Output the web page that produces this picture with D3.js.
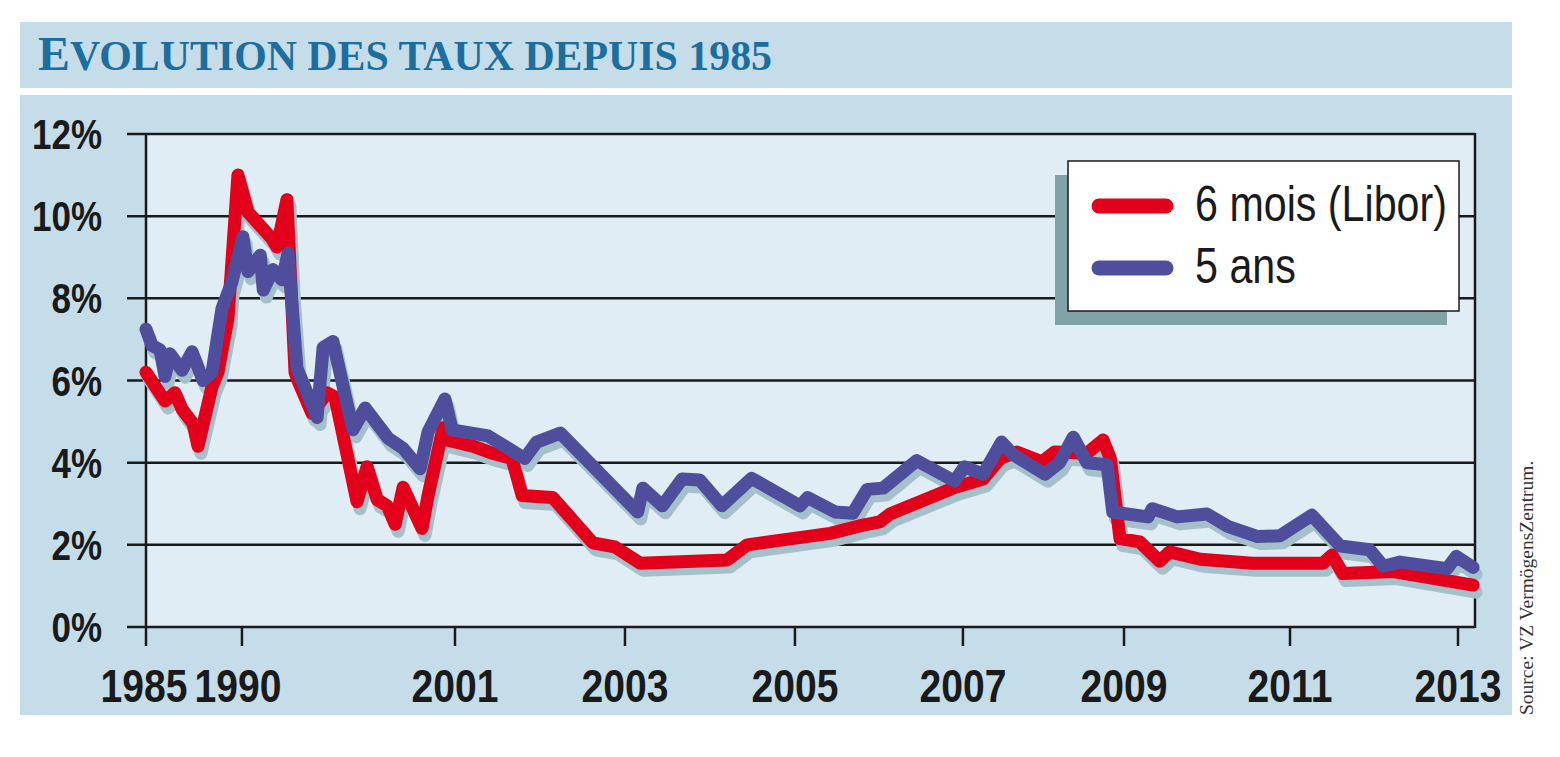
<!DOCTYPE html>
<html>
<head>
<meta charset="utf-8">
<script src="https://cdn.jsdelivr.net/npm/d3@7"></script>
<style>
  html, body { margin: 0; padding: 0; background: #fff; }
  svg { display: block; }
</style>
</head>
<body>
<svg id="chart" width="1560" height="757"></svg>
<script>
// tick labels
var yearTicks = [1985, 1990, 2001, 2003, 2005, 2007, 2009, 2011, 2013];
var rateTicks = [0, 2, 4, 6, 8, 10, 12];

// 6 mois (Libor) : [year, %]
var libor = [
  [1985.00, 6.2], [1985.99, 5.5], [1986.51, 5.7], [1986.88, 5.3], [1987.45, 4.95],
  [1987.71, 4.4], [1988.44, 5.85], [1988.75, 6.2], [1989.27, 7.5], [1989.79, 11.0],
  [1990.31, 10.1], [1991.55, 9.45], [1991.81, 9.25], [1992.32, 10.4], [1992.74, 6.2],
  [1992.89, 6.0], [1993.62, 5.2], [1994.39, 5.7], [1994.80, 5.6], [1995.94, 3.05],
  [1996.46, 3.9], [1996.98, 3.1], [1997.50, 2.95], [1997.91, 2.5], [1998.32, 3.4],
  [1999.30, 2.4], [1999.61, 3.2], [2000.39, 4.85], [2000.64, 4.55], [2001.21, 4.4],
  [2001.41, 4.25], [2001.67, 4.1], [2001.79, 3.2], [2002.15, 3.15], [2002.62, 2.05],
  [2002.88, 1.95], [2003.18, 1.55], [2004.20, 1.63], [2004.44, 2.0], [2005.42, 2.28],
  [2005.81, 2.48], [2006.01, 2.56], [2006.13, 2.75], [2006.88, 3.38], [2007.25, 3.6],
  [2007.46, 4.1], [2007.67, 4.26], [2007.98, 4.02], [2008.14, 4.26], [2008.54, 4.23],
  [2008.74, 4.55], [2008.83, 4.1], [2008.95, 2.15], [2009.19, 2.07], [2009.43, 1.6],
  [2009.55, 1.83], [2009.92, 1.65], [2010.55, 1.55], [2011.39, 1.55], [2011.50, 1.75],
  [2011.63, 1.3], [2012.23, 1.35], [2013.18, 1.02]
];

// 5 ans : [year, %]
var fiveYears = [
  [1985.00, 7.25], [1985.31, 6.85], [1985.73, 6.75], [1985.99, 6.1], [1986.25, 6.65],
  [1986.88, 6.25], [1987.40, 6.7], [1987.97, 6.0], [1988.44, 6.2], [1988.96, 7.75],
  [1989.48, 8.4], [1990.05, 9.5], [1990.31, 8.65], [1990.95, 9.05], [1991.10, 8.2],
  [1991.60, 8.7], [1992.07, 8.45], [1992.38, 9.1], [1992.84, 6.3], [1993.88, 5.1],
  [1994.19, 6.8], [1994.70, 6.95], [1995.73, 4.8], [1996.36, 5.33], [1997.54, 4.6],
  [1998.32, 4.35], [1999.20, 3.85], [1999.61, 4.75], [2000.48, 5.55], [2000.85, 4.8],
  [2001.39, 4.65], [2001.82, 4.1], [2001.96, 4.5], [2002.24, 4.72], [2003.15, 2.8],
  [2003.21, 3.38], [2003.44, 2.95], [2003.67, 3.6], [2003.88, 3.58], [2004.14, 2.95],
  [2004.49, 3.62], [2005.06, 2.95], [2005.15, 3.15], [2005.48, 2.8], [2005.69, 2.77],
  [2005.86, 3.35], [2006.05, 3.38], [2006.45, 4.05], [2006.90, 3.55], [2007.02, 3.9],
  [2007.25, 3.72], [2007.48, 4.5], [2007.62, 4.2], [2008.02, 3.72], [2008.20, 4.0],
  [2008.37, 4.62], [2008.54, 4.0], [2008.79, 3.95], [2008.86, 2.8], [2009.29, 2.68],
  [2009.34, 2.88], [2009.64, 2.68], [2010.00, 2.75], [2010.25, 2.45], [2010.61, 2.2],
  [2010.88, 2.22], [2011.26, 2.72], [2011.60, 1.97], [2011.95, 1.88], [2012.11, 1.48],
  [2012.31, 1.58], [2012.87, 1.42], [2012.98, 1.72], [2013.18, 1.45]
];

var seriesNames = ['6 mois (Libor)', '5 ans'];
var colors = ['#e2001a', '#4f4e9c'];

var svg = d3.select('#chart');
var plotL = 146, plotR = 1475, plotT = 134, plotB = 627;
var sansFont = '"Liberation Sans", Arial, sans-serif';

// the axis is compressed before 2001 - tick positions as fractions of plot width
var tickFrac = [0, 0.0722, 0.2325, 0.3604, 0.4883, 0.6147, 0.7359, 0.8608, 0.9872];
var x = d3.scaleLinear()
  .domain(yearTicks)
  .range(tickFrac.map(function(f){ return plotL + f * (plotR - plotL); }));
var y = d3.scaleLinear().domain([0, 12]).range([plotB, plotT]);

// squeeze a text selection so the reference string gets the wanted width (condensed look)
function condense(sel, refWidth, refNode){
  var k = refWidth / refNode.getComputedTextLength();
  sel.each(function(){
    var w = this.getComputedTextLength();
    d3.select(this).attr('textLength', w * k).attr('lengthAdjust', 'spacingAndGlyphs');
  });
}

// backgrounds
svg.append('rect').attr('x', 20).attr('y', 22).attr('width', 1492).attr('height', 66).attr('fill', '#c5dde9');
svg.append('rect').attr('x', 20).attr('y', 95).attr('width', 1492).attr('height', 620).attr('fill', '#c5dde9');
svg.append('rect').attr('x', plotL).attr('y', plotT).attr('width', plotR - plotL).attr('height', plotB - plotT).attr('fill', '#e1edf4');

// title
var title = svg.append('text')
  .attr('x', 38).attr('y', 70)
  .attr('fill', '#1c6e9f')
  .attr('font-family', '"Liberation Serif", "DejaVu Serif", serif')
  .attr('font-weight', 'bold')
  .attr('textLength', 734)
  .attr('lengthAdjust', 'spacingAndGlyphs');
title.append('tspan').attr('font-size', 48).text('E');
title.append('tspan').attr('font-size', 42).text('VOLUTION DES TAUX DEPUIS 1985');

// grid
svg.append('g').selectAll('line').data(rateTicks).enter().append('line')
  .attr('x1', 127).attr('x2', plotR)
  .attr('y1', function(d){ return y(d); }).attr('y2', function(d){ return y(d); })
  .attr('stroke', '#1a1a1a').attr('stroke-width', 2.5);

svg.append('line').attr('x1', plotL).attr('x2', plotL).attr('y1', plotT).attr('y2', plotB)
  .attr('stroke', '#1a1a1a').attr('stroke-width', 2.5);
svg.append('line').attr('x1', plotR).attr('x2', plotR).attr('y1', plotT - 1).attr('y2', plotB + 1)
  .attr('stroke', '#1a1a1a').attr('stroke-width', 2.5);

// x ticks and labels
var xAxis = svg.append('g');
xAxis.selectAll('line').data(yearTicks).enter().append('line')
  .attr('x1', function(d){ return x(d); }).attr('x2', function(d){ return x(d); })
  .attr('y1', plotB).attr('y2', 646)
  .attr('stroke', '#1a1a1a').attr('stroke-width', 2.5);
var xLabels = xAxis.selectAll('text').data(yearTicks).enter().append('text')
  .attr('x', function(d){ return x(d) + (d === 1990 ? -4 : (d === 1985 ? -2 : 0)); })
  .attr('y', 702)
  .attr('text-anchor', 'middle')
  .attr('font-family', sansFont).attr('font-weight', 'bold').attr('font-size', 46)
  .attr('fill', '#1a1a1a')
  .text(function(d){ return d; });
condense(xLabels, 87, xLabels.nodes()[0]);

// y labels
var yLabels = svg.append('g').selectAll('text').data(rateTicks).enter().append('text')
  .attr('x', 102).attr('y', function(d){ return y(d) + 15; })
  .attr('text-anchor', 'end')
  .attr('font-family', sansFont).attr('font-weight', 'bold').attr('font-size', 42)
  .attr('fill', '#1a1a1a')
  .text(function(d){ return d + '%'; });
condense(yLabels, 70, yLabels.nodes()[6]);

// lines with drop shadow
var line = d3.line().x(function(d){ return x(d[0]); }).y(function(d){ return y(d[1]); });
var data = [libor, fiveYears];
var plot = svg.append('g');
plot.selectAll('path.shadow').data(data).enter().append('path')
  .attr('class', 'shadow')
  .attr('transform', 'translate(3,7)')
  .attr('d', line)
  .attr('fill', 'none').attr('stroke', '#a4c0ca').attr('stroke-width', 13)
  .attr('stroke-linejoin', 'round').attr('stroke-linecap', 'round');
plot.selectAll('path.serie').data(data).enter().append('path')
  .attr('class', 'serie')
  .attr('d', line)
  .attr('fill', 'none')
  .attr('stroke', function(d, i){ return colors[i]; })
  .attr('stroke-width', 13)
  .attr('stroke-linejoin', 'round').attr('stroke-linecap', 'round');

// legend
var legend = svg.append('g');
legend.append('rect').attr('x', 1055).attr('y', 175).attr('width', 392).attr('height', 150).attr('fill', '#80a3a8');
legend.append('rect').attr('x', 1068).attr('y', 161).attr('width', 391).attr('height', 150)
  .attr('fill', '#fff').attr('stroke', '#1a1a1a').attr('stroke-width', 1.5);
var legendTexts = [];
seriesNames.forEach(function(name, i){
  var ly = 206 + i * 62;
  legend.append('line').attr('x1', 1099).attr('x2', 1166).attr('y1', ly).attr('y2', ly)
    .attr('stroke', colors[i]).attr('stroke-width', 15).attr('stroke-linecap', 'round');
  legendTexts.push(legend.append('text').attr('x', 1195).attr('y', ly + 15)
    .attr('font-family', sansFont).attr('font-size', 50).attr('fill', '#1a1a1a')
    .text(name).node());
});
condense(d3.selectAll(legendTexts), 252, legendTexts[0]);

// source
svg.append('text')
  .attr('transform', 'translate(1533,715) rotate(-90)')
  .attr('font-family', '"Liberation Serif", "DejaVu Serif", serif')
  .attr('font-size', 19.5).attr('fill', '#333')
  .text('Source: VZ VermögensZentrum.');
</script>
</body>
</html>
